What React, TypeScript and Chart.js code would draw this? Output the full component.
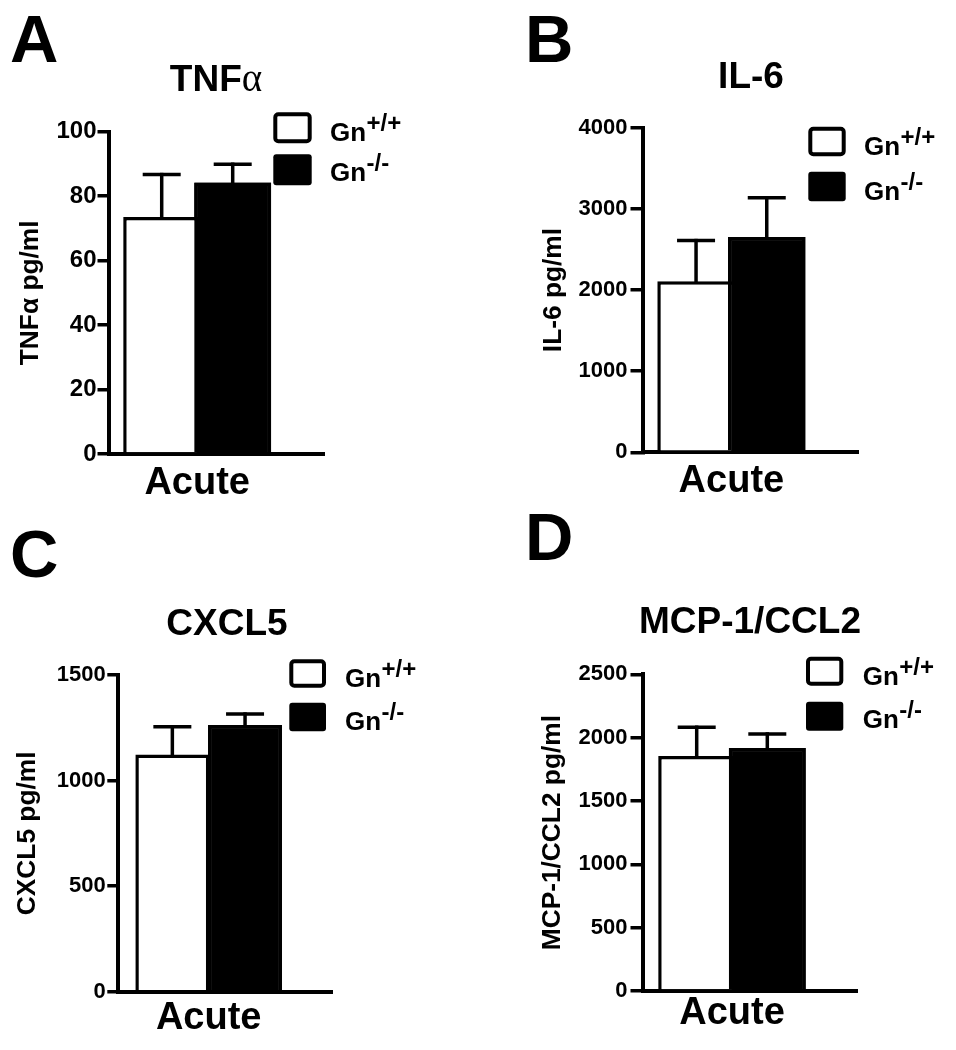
import React, { useEffect, useRef } from 'react';
import { Chart, registerables } from 'chart.js';

Chart.register(...registerables);

const W = 956;
const H = 1050;
const FONT = '"Liberation Sans", Arial, Helvetica, sans-serif';
const SERIF = '"Liberation Serif", "Times New Roman", serif';

// ---------- data ----------
const categories = ['Acute'];
const groups = ['Gn+/+', 'Gn-/-'];
const groupBase = ['Gn', 'Gn'];
const groupSup = ['+/+', '-/-'];

const tnfMean = [73.5, 84.2];
const tnfSem = [13.2, 5.7];
const tnfTicks = [0, 20, 40, 60, 80, 100];

const il6Mean = [2110, 2655];
const il6Sem = [500, 482];
const il6Ticks = [0, 1000, 2000, 3000, 4000];

const cxcl5Mean = [1124, 1263];
const cxcl5Sem = [131, 52];
const cxcl5Ticks = [0, 500, 1000, 1500];

const mcpMean = [1855, 1918];
const mcpSem = [227, 111];
const mcpTicks = [0, 500, 1000, 1500, 2000, 2500];

// ---------- layout (pixels) ----------
const panels = [
  {
    letter: 'A', title: 'TNF', greek: 'α', yTitle: 'TNFα pg/ml',
    mean: tnfMean, sem: tnfSem, ticks: tnfTicks,
    axL: 108.5, axT: 131.7, axB: 454, axR: 325,
    center: 197.2, spacing: 71, barW: 77, capW: 38,
    tickFont: 24, tickLen: 11, tickPad: 1, yTitleX: 30.9,
    letterX: 10, letterY: 61.5, titleX: 216, titleY: 91,
    legX: 273.3, legY: [112.3, 154.3], legW: 38.4, legH: 31,
    legTextX: 330, legBase: [141, 181], acutePad: 7,
  },
  {
    letter: 'B', title: 'IL-6', greek: '', yTitle: 'IL-6 pg/ml',
    mean: il6Mean, sem: il6Sem, ticks: il6Ticks,
    axL: 642.5, axT: 127.8, axB: 452.3, axR: 859,
    center: 731.4, spacing: 70.7, barW: 77.5, capW: 38,
    tickFont: 22, tickLen: 12, tickPad: 3, yTitleX: 553.5,
    letterX: 525, letterY: 61.7, titleX: 751, titleY: 88,
    legX: 808.3, legY: [126.7, 171.7], legW: 37.4, legH: 29.5,
    legTextX: 864, legBase: [155, 200], acutePad: 6,
  },
  {
    letter: 'C', title: 'CXCL5', greek: '', yTitle: 'CXCL5 pg/ml',
    mean: cxcl5Mean, sem: cxcl5Sem, ticks: cxcl5Ticks,
    axL: 118.3, axT: 675, axB: 991.7, axR: 333.3,
    center: 208.7, spacing: 72.7, barW: 74, capW: 38,
    tickFont: 22, tickLen: 11, tickPad: 1.5, yTitleX: 27.5,
    letterX: 10, letterY: 577, titleX: 227, titleY: 635,
    legX: 289.3, legY: [659.3, 702.7], legW: 36.7, legH: 28.5,
    legTextX: 345, legBase: [686.7, 730], acutePad: 4,
  },
  {
    letter: 'D', title: 'MCP-1/CCL2', greek: '', yTitle: 'MCP-1/CCL2 pg/ml',
    mean: mcpMean, sem: mcpSem, ticks: mcpTicks,
    axL: 642.5, axT: 674.3, axB: 991, axR: 858.3,
    center: 732, spacing: 70.6, barW: 77, capW: 38,
    tickFont: 22, tickLen: 12, tickPad: 3, yTitleX: 552.5,
    letterX: 525, letterY: 560, titleX: 750, titleY: 633,
    legX: 806, legY: [656.7, 701.7], legW: 37.3, legH: 29,
    legTextX: 862.7, legBase: [685, 728.3], acutePad: 0,
  },
];

const Y_TITLE_FONT = 26.3;
const X_LABEL_FONT = 38;
const TITLE_FONT = 37;
const LETTER_FONT = 67;
const LEG_FONT = 26;
const LEG_SUP_FONT = 24;

// ---------- plugins ----------
const semBarsPlugin = {
  id: 'semBars',
  afterDatasetsDraw(chart: any, _args: any, opts: any) {
    const { ctx } = chart;
    const yScale = chart.scales.y;
    // the right-hand (filled) bar sits on top of its neighbour's edge
    const front = chart.getDatasetMeta(1);
    front.data.forEach((el: any) => el.draw(ctx));

    ctx.save();
    ctx.strokeStyle = '#000';
    ctx.lineWidth = 3.5;
    ctx.lineCap = 'butt';
    chart.data.datasets.forEach((ds: any, i: number) => {
      const meta = chart.getDatasetMeta(i);
      meta.data.forEach((el: any, j: number) => {
        const value = ds.data[j].y;
        const top = yScale.getPixelForValue(value + ds.sem[j]);
        const x = el.x;
        ctx.beginPath();
        ctx.moveTo(x, el.y + 1);
        ctx.lineTo(x, top - 1.75);
        ctx.stroke();
        ctx.beginPath();
        ctx.moveTo(x - opts.capW / 2, top);
        ctx.lineTo(x + opts.capW / 2, top);
        ctx.stroke();
      });
    });
    ctx.restore();
  },
};

const decorPlugin = {
  id: 'decor',
  afterDraw(chart: any, _args: any, p: any) {
    const { ctx } = chart;
    ctx.save();
    ctx.fillStyle = '#000';
    ctx.strokeStyle = '#000';
    ctx.textBaseline = 'alphabetic';
    ctx.textAlign = 'left';

    // panel letter
    ctx.font = `bold ${LETTER_FONT}px ${FONT}`;
    ctx.fillText(p.letter, p.letterX, p.letterY);

    // title
    ctx.font = `bold ${TITLE_FONT}px ${FONT}`;
    const w1 = ctx.measureText(p.title).width;
    ctx.font = `${TITLE_FONT + 2}px ${SERIF}`;
    const w2 = p.greek ? ctx.measureText(p.greek).width : 0;
    const start = p.titleX - (w1 + w2) / 2;
    ctx.font = `bold ${TITLE_FONT}px ${FONT}`;
    ctx.fillText(p.title, start, p.titleY);
    if (p.greek) {
      ctx.font = `${TITLE_FONT + 2}px ${SERIF}`;
      ctx.fillText(p.greek, start + w1, p.titleY);
    }

    // legend
    groups.forEach((_g, i) => {
      const y = p.legY[i];
      const r = 3;
      if (i === 0) {
        ctx.lineWidth = 4;
        ctx.fillStyle = '#fff';
        ctx.beginPath();
        ctx.roundRect(p.legX + 2, y + 2, p.legW - 4, p.legH - 4, r);
        ctx.fill();
        ctx.stroke();
      } else {
        ctx.fillStyle = '#000';
        ctx.beginPath();
        ctx.roundRect(p.legX, y, p.legW, p.legH, r);
        ctx.fill();
      }
      ctx.fillStyle = '#000';
      ctx.font = `bold ${LEG_FONT}px ${FONT}`;
      ctx.fillText(groupBase[i], p.legTextX, p.legBase[i]);
      const bw = ctx.measureText(groupBase[i]).width;
      ctx.font = `bold ${LEG_SUP_FONT}px ${FONT}`;
      ctx.fillText(groupSup[i], p.legTextX + bw + 0.5, p.legBase[i] - 10);
    });
    ctx.restore();
  },
};

function makeConfig(p: any): any {
  const len = p.axR - p.axL;
  const f = (p.center - p.axL) / len;
  const padLeft = p.yTitleX - (Y_TITLE_FONT * 1.2) / 2;
  const xH = 70;
  const fillColors = ['#ffffff', '#000000'];
  return {
    type: 'bar',
    data: {
      datasets: groups.map((g, i) => ({
        label: g,
        data: categories.map((_c, j) => ({ x: j, y: p.mean[i] })),
        sem: categories.map(() => p.sem[i]),
        backgroundColor: fillColors[i],
        borderColor: '#000000',
        borderWidth: 3.5,
        categoryPercentage: (2 * p.spacing) / len,
        barPercentage: p.barW / p.spacing,
      })),
    },
    options: {
      animation: false,
      responsive: false,
      devicePixelRatio: 1,
      events: [],
      layout: {
        padding: { left: padLeft, top: p.axT, right: W - p.axR, bottom: H - p.axB - xH },
      },
      plugins: {
        legend: { display: false },
        title: { display: false },
        tooltip: { enabled: false },
        semBars: { capW: p.capW },
        decor: p,
      },
      scales: {
        x: {
          type: 'linear',
          min: -f,
          max: 1 - f,
          bounds: 'data',
          offset: false,
          grid: { display: false, drawTicks: false, lineWidth: 0 },
          border: { display: true, color: '#000', width: 4 },
          ticks: {
            font: { family: FONT, size: X_LABEL_FONT, weight: 'bold' },
            color: '#000',
            padding: p.acutePad,
            maxRotation: 0,
            minRotation: 0,
            autoSkip: false,
            callback: (v: number) => (categories[v] !== undefined ? categories[v] : ''),
          },
          afterBuildTicks: (s: any) => {
            s.ticks = categories.map((_c, j) => ({ value: j }));
          },
          afterFit: (s: any) => {
            s.height = xH;
          },
        },
        y: {
          type: 'linear',
          min: p.ticks[0],
          max: p.ticks[p.ticks.length - 1],
          afterBuildTicks: (s: any) => {
            s.ticks = p.ticks.map((v: number) => ({ value: v }));
          },
          grid: {
            display: true,
            drawOnChartArea: false,
            drawTicks: true,
            tickLength: p.tickLen,
            lineWidth: 3.5,
            color: '#000',
          },
          border: { display: true, color: '#000', width: 4 },
          ticks: {
            font: { family: FONT, size: p.tickFont, weight: 'bold' },
            color: '#000',
            padding: p.tickPad,
            callback: (v: number) => String(v),
          },
          title: {
            display: true,
            text: p.yTitle,
            color: '#000',
            font: { family: FONT, size: Y_TITLE_FONT, weight: 'bold' },
            padding: 0,
          },
          afterFit: (s: any) => {
            s.width = p.axL - padLeft;
          },
        },
      },
    },
    plugins: [semBarsPlugin, decorPlugin],
  };
}

function Panel({ p }: { p: any }) {
  const ref = useRef<HTMLCanvasElement | null>(null);
  useEffect(() => {
    if (!ref.current) return;
    const chart = new Chart(ref.current, makeConfig(p));
    return () => chart.destroy();
  }, [p]);
  return (
    <canvas
      ref={ref}
      width={W}
      height={H}
      style={{ position: 'absolute', left: 0, top: 0, width: W, height: H }}
    />
  );
}

export default function App() {
  useEffect(() => {
    document.body.style.margin = '0';
  }, []);
  return (
    <div style={{ position: 'absolute', left: 0, top: 0, width: W, height: H, background: '#fff', overflow: 'hidden' }}>
      {panels.map((p) => (
        <Panel key={p.letter} p={p} />
      ))}
    </div>
  );
}
